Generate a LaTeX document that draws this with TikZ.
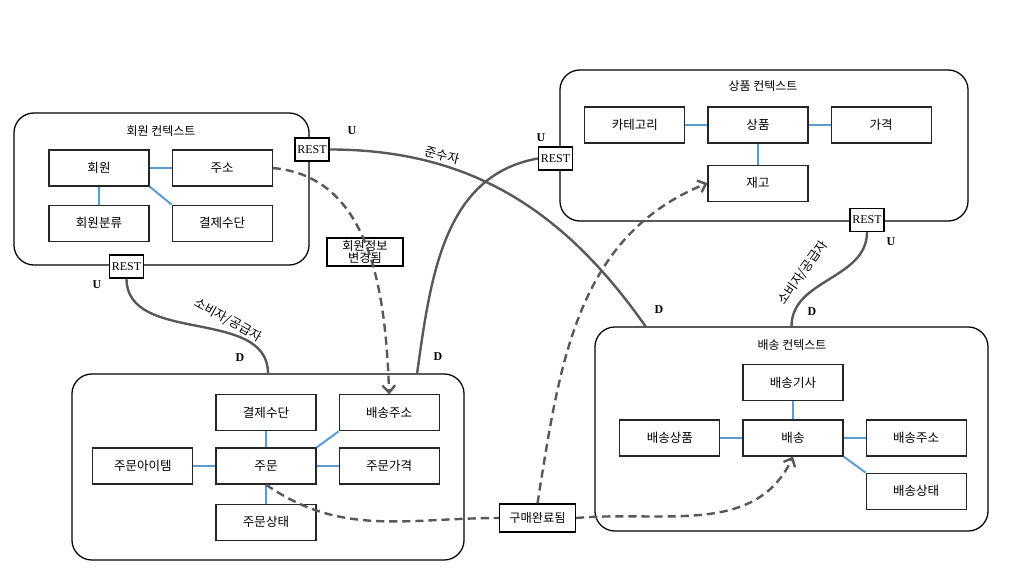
\documentclass[tikz,border=0pt]{standalone}
\usepackage{fontspec}
\setmainfont{Liberation Serif}
\newfontfamily\kr{Noto Sans CJK KR}
\usepackage{xcolor}
\usetikzlibrary{arrows.meta}
\usetikzlibrary{positioning}
\definecolor{relgray}{HTML}{585858}
\definecolor{linkblue}{HTML}{5B9BD5}

\begin{document}
\begin{tikzpicture}[x=0.025cm, y=-0.025cm, node distance = 0.45cm and 0.55cm, % pixel grid
			context/.style={
					rectangle,
					draw,
					line width=0.9pt,
					rounded corners=0.5cm,
					inner sep=0pt
				},
			block/.style={
					rectangle,
					draw=black!85,
					line width=0.8pt,
					minimum width=2.5cm,
					minimum height=0.9cm,
					inner sep=0pt,
					font=\kr\fontsize{8.9}{10}\selectfont
				},
			title/.style={font=\kr\fontsize{8.5}{10}\selectfont},
			rest/.style={
					rectangle,
					draw,
					fill=white,
					line width=0.8pt,
					minimum width=0.85cm,
					minimum height=0.575cm,
					inner sep=0pt,
					font=\fontsize{8.5}{10}\selectfont
				},
			eventbox/.style={
					rectangle,
					draw,
					line width=0.8pt,
					minimum width=1.9cm,
					minimum height=0.7cm,
					inner sep=0pt,
					align=center,
					font=\kr\fontsize{8.7}{9}\selectfont
				},
			ud/.style={font=\bfseries\fontsize{8.5}{10}\selectfont},
			rellabel/.style={font=\kr\fontsize{9}{10}\selectfont, inner sep=0pt},
			link/.style={draw=linkblue, line width=1.4pt},
			rel/.style={draw=relgray, line width=1.7pt},
			event/.style={draw=relgray, line width=1.7pt, dash pattern=on 5.8pt off 3.5pt},
			tip/.style={-{Straight Barb[length=5pt,width=9pt]}}
		]
		\useasboundingbox (0,0) rectangle (1021,582);
		% Contexts
		\node [context, minimum width=7.375cm, minimum height=3.8cm] (mctx) at (161.5,189) {};
		\node [context, minimum width=10.2cm, minimum height=3.775cm] (pctx) at (764,145.5) {};
		\node [context, minimum width=9.8cm, minimum height=4.65cm] (octx) at (268,467) {};
		\node [context, minimum width=9.825cm, minimum height=5.1cm] (dctx) at (791.5,429) {};
		\node [title] (mtitle) at (161,131) {회원 컨텍스트};
		\node [title] (ptitle) at (763,86) {상품 컨텍스트};
		\node [title] (dtitle) at (792,345) {배송 컨텍스트};
		% Member context
		\node [block] (member) at (99,168) {회원};
		\node [block, right=of member] (addr) {주소};
		\node [block, below=of member] (grade) {회원분류};
		\node [block, below=of addr] (mpay) {결제수단};
		% Product context
		\node [block] (product) at (758,125) {상품};
		\node [block, left=of product] (category) {카테고리};
		\node [block, right=of product] (price) {가격};
		\node [block, below=0.525cm of product] (stock) {재고};
		% Order context
		\node [block] (order) at (266,466) {주문};
		\node [block, above=0.4cm of order] (opay) {결제수단};
		\node [block, right=of opay] (oship) {배송주소};
		\node [block, left=of order] (item) {주문아이템};
		\node [block, right=of order] (oprice) {주문가격};
		\node [block, below=0.475cm of order] (ostate) {주문상태};
		% Delivery context
		\node [block] (delivery) at (793,438) {배송};
		\node [block, above=of delivery] (driver) {배송기사};
		\node [block, left=of delivery] (dgoods) {배송상품};
		\node [block, right=of delivery] (daddr) {배송주소};
		\node [block, below=0.4cm of daddr] (dstate) {배송상태};
		% Links inside contexts
		\path [link] (member) -- (addr);
		\path [link] (member) -- (grade);
		\path [link] (member.south east) -- (mpay.north west);
		\path [link] (category) -- (product);
		\path [link] (product) -- (price);
		\path [link] (product) -- (stock);
		\path [link] (opay) -- (order);
		\path [link] (item) -- (order);
		\path [link] (order) -- (oprice);
		\path [link] (order) -- (ostate);
		\path [link] (order.north east) -- (oship.south west);
		\path [link] (driver) -- (delivery);
		\path [link] (dgoods) -- (delivery);
		\path [link] (delivery) -- (daddr);
		\path [link] (delivery.south east) -- (dstate.north west);
		% REST ports
		\node [rest] (mrest1) at (312,149.5) {REST};
		\node [rest] (mrest2) at (126.5,266.5) {REST};
		\node [rest] (prest1) at (555.5,158.5) {REST};
		\node [rest] (prest2) at (867,220) {REST};
		% Upstream / downstream marks
		\node [ud] (u1) at (352,131) {U};
		\node [ud] (u2) at (97,285) {U};
		\node [ud] (u3) at (541,138) {U};
		\node [ud] (u4) at (891,242) {U};
		\node [ud] (d1) at (240,358) {D};
		\node [ud] (d2) at (438,357) {D};
		\node [ud] (d3) at (659,310) {D};
		\node [ud] (d4) at (812,312) {D};
		% Relation labels
		\node [rellabel, rotate=-14] (conform) at (442,155) {준수자};
		\node [rellabel, rotate=-29] (cs1) at (228,320) {소비자/공급자};
		\node [rellabel, rotate=55] (cs2) at (803,273) {소비자/공급자};
		% Events
		\node [eventbox] (changed) at (365,252) {회원정보\\변경됨};
		\node [eventbox, fill=white] (bought) at (537.5,518) {구매완료됨};
		\coordinate (otop) at (417,374);
		\coordinate (dtop) at (646,327);
		% Draw relations
		\path [rel] (mrest2.south) to[out=-90, in=90] (octx.north);
		\path [rel] (mrest1.east) to[out=0, in=125] (dtop);
		\path [rel] (otop) to[out=82, in=190] (prest1.west);
		\path [rel] (prest2.south) to[out=-90, in=90] (dctx.north);
		\path [event, tip] (addr.east) to[out=-5, in=92] (oship.north);
		\path [event] (order.south) to[out=-35, in=180] (bought.west);
		\path [event, tip] (bought.east) to[out=5, in=-115] (delivery.south);
		\path [event, tip] (bought.north) to[out=81, in=202] (stock.west);
	\end{tikzpicture}
\end{document}
